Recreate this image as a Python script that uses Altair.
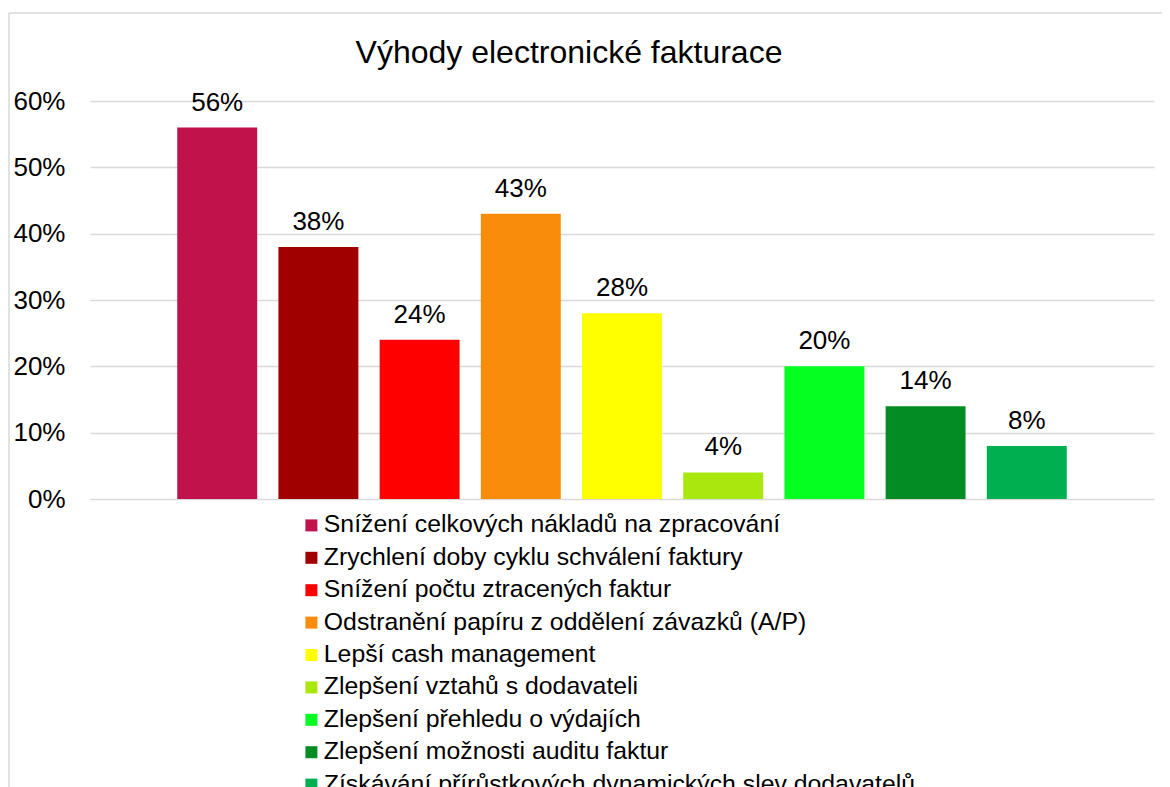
import altair as alt
import pandas as pd

categories = [
    "Snížení celkových nákladů na zpracování",
    "Zrychlení doby cyklu schválení faktury",
    "Snížení počtu ztracených faktur",
    "Odstranění papíru z oddělení závazků (A/P)",
    "Lepší cash management",
    "Zlepšení vztahů s dodavateli",
    "Zlepšení přehledu o výdajích",
    "Zlepšení možnosti auditu faktur",
    "Získávání přírůstkových dynamických slev dodavatelů",
]
values = [0.56, 0.38, 0.24, 0.43, 0.28, 0.04, 0.20, 0.14, 0.08]
colors = ["#C2124B", "#A00000", "#FF0000", "#FA8C0C", "#FFFF00",
          "#A8E80E", "#05FF20", "#038C24", "#00AF50"]
y_ticks = [0, 0.1, 0.2, 0.3, 0.4, 0.5, 0.6]

df = pd.DataFrame({"cat": categories, "val": values})

FONT = "Liberation Sans"

x_enc = alt.X("cat:N", sort=categories, axis=None,
              scale=alt.Scale(paddingInner=0.21, paddingOuter=0.862))
y_enc = alt.Y("val:Q",
              scale=alt.Scale(domain=[0, 0.6], nice=False),
              axis=alt.Axis(values=y_ticks, format=".0%", title=None,
                            domain=False, ticks=False, grid=True,
                            gridColor="#D9D9D9", gridWidth=1.5,
                            labelFont=FONT, labelFontSize=26,
                            labelColor="#000000", labelPadding=25))

bars = alt.Chart(df).mark_bar().encode(
    x=x_enc,
    y=y_enc,
    color=alt.Color("cat:N", sort=categories,
                    scale=alt.Scale(domain=categories, range=colors),
                    legend=alt.Legend(title=None, orient="none",
                                      legendX=209, legendY=412,
                                      direction="vertical",
                                      symbolType="square", symbolSize=144,
                                      symbolStrokeWidth=0,
                                      labelFont=FONT, labelFontSize=24.8,
                                      labelColor="#000000",
                                      labelOffset=0, rowPadding=6.4,
                                      padding=0, labelLimit=1000)),
)

labels = alt.Chart(df).mark_text(
    font=FONT, fontSize=26, color="#000000", baseline="alphabetic", dy=-17
).encode(
    x=x_enc,
    y=alt.Y("val:Q", scale=alt.Scale(domain=[0, 0.6], nice=False)),
    text=alt.Text("val:Q", format=".0%"),
)

border_data = alt.Data(values=[{"a": 1}])
top_line = alt.Chart(border_data).mark_rule(color="#D9D9D9", strokeWidth=1.5).encode(
    x=alt.value(-81), x2=alt.value(1100), y=alt.value(-88)
)
left_line = alt.Chart(border_data).mark_rule(color="#D9D9D9", strokeWidth=1.5).encode(
    x=alt.value(-81), y=alt.value(-88), y2=alt.value(800)
)

chart = alt.layer(top_line, left_line, bars, labels).properties(
    width=1064,
    height=398,
    autosize=alt.AutoSizeParams(type="none"),
    padding={"left": 82, "top": 93, "right": 8, "bottom": 298},
    title=alt.Title("Výhody electronické fakturace", font=FONT, fontSize=32,
                    fontWeight="normal", color="#000000", anchor="middle",
                    baseline="alphabetic", dx=-53, dy=103, offset=20),
).configure_view(stroke=None)

chart.save("out.html", embed_options={"renderer": "svg", "actions": False})
